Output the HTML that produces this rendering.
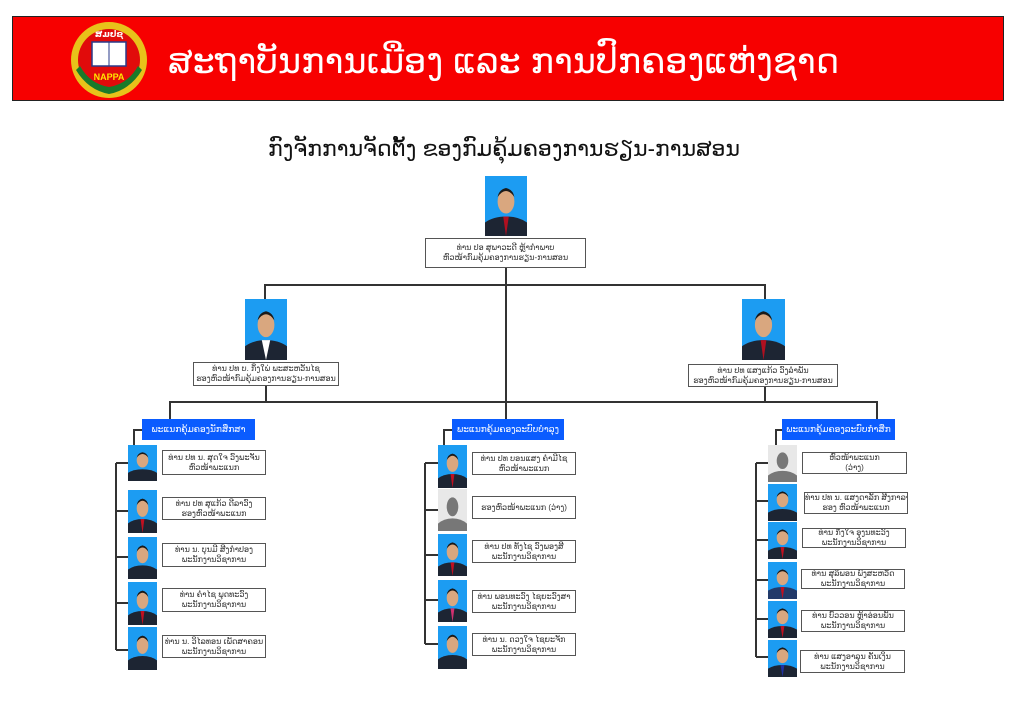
<!DOCTYPE html>
<html><head><meta charset="utf-8"><style>
body{margin:0;width:1024px;height:723px;background:#fff;position:relative;overflow:hidden;font-family:"Liberation Sans","DejaVu Sans",sans-serif}
.a{position:absolute}
.bx{position:absolute;border:1.5px solid #555;background:#fff;box-sizing:border-box;font-size:8px;line-height:10px;text-align:center;color:#333;display:flex;flex-direction:column;justify-content:center;overflow:hidden;white-space:nowrap}
.hd{position:absolute;background:#0a5cff;color:#fff;font-size:9px;text-align:center;line-height:21px;height:21px;overflow:hidden;white-space:nowrap}
.ph{position:absolute;background:#1c9cf2;overflow:hidden}
.ph svg{width:100%;height:100%;display:block}
.gr{background:#e8e8e8}
</style></head><body>
<div class="a" style="left:12px;top:16px;width:992px;height:85px;background:#f70000;border:1.5px solid #222;box-sizing:border-box"></div>
<svg class="a" style="left:68px;top:20px" width="82" height="80" viewBox="0 0 82 80">
<circle cx="41" cy="40" r="38" fill="#e8c21a"/>
<circle cx="41" cy="40" r="31" fill="#e10b0b"/>
<path d="M8 50 Q20 70 41 74 Q62 70 74 50 L70 46 Q60 64 41 67 Q22 64 12 46Z" fill="#1a7a2a"/>
<rect x="24" y="22" width="34" height="24" fill="#fff" stroke="#2a3a8a" stroke-width="1.5"/>
<line x1="41" y1="22" x2="41" y2="46" stroke="#2a3a8a"/>
<text x="41" y="17" font-size="9" fill="#fff" text-anchor="middle" font-weight="bold">ສມປຊ</text>
<text x="41" y="60" font-size="9" fill="#ffe600" text-anchor="middle" font-weight="bold">NAPPA</text>
</svg>
<div class="a" style="left:168px;top:39px;font-size:35px;line-height:46px;color:#fff;white-space:nowrap;font-weight:normal">ສະຖາບັນການເມືອງ ແລະ ການປົກຄອງແຫ່ງຊາດ</div>
<div class="a" style="left:0;top:136px;width:1008px;text-align:center;font-size:22px;color:#111;white-space:nowrap;font-weight:normal">ກົງຈັກການຈັດຕັ້ງ ຂອງກົມຄຸ້ມຄອງການຮຽນ-ການສອນ</div>

<svg class="a" style="left:0;top:0" width="1024" height="723">
<g stroke="#333" stroke-width="2" fill="none">
<line x1="506" y1="268" x2="506" y2="419"/>
<polyline points="265,299 265,285 765,285 765,299"/>
<line x1="266" y1="386" x2="266" y2="402"/>
<line x1="765" y1="387" x2="765" y2="402"/>
<polyline points="170,419 170,402 877,402 877,419"/>
<polyline points="142,430 134,430 134,445"/>
<line x1="116" y1="463" x2="116" y2="650"/>
<line x1="116" y1="463" x2="128" y2="463"/><line x1="116" y1="511" x2="128" y2="511"/><line x1="116" y1="557" x2="128" y2="557"/><line x1="116" y1="603" x2="128" y2="603"/><line x1="116" y1="650" x2="128" y2="650"/>
<polyline points="452,430 444,430 444,445"/>
<line x1="425" y1="463" x2="425" y2="644"/>
<line x1="425" y1="463" x2="438" y2="463"/><line x1="425" y1="510" x2="438" y2="510"/><line x1="425" y1="555" x2="438" y2="555"/><line x1="425" y1="600" x2="438" y2="600"/><line x1="425" y1="644" x2="438" y2="644"/>
<polyline points="782,430 776,430 776,445"/>
<line x1="756" y1="463" x2="756" y2="657"/>
<line x1="756" y1="463" x2="768" y2="463"/><line x1="756" y1="501" x2="768" y2="501"/><line x1="756" y1="540" x2="768" y2="540"/><line x1="756" y1="580" x2="768" y2="580"/><line x1="756" y1="619" x2="768" y2="619"/><line x1="756" y1="657" x2="768" y2="657"/>
</g></svg>

<div class="ph" style="left:485px;top:176px;width:42px;height:60px"><svg viewBox="0 0 30 40" preserveAspectRatio="none"><path d="M0 40 L0 31 Q6 27 15 27 Q24 27 30 31 L30 40Z" fill="#1d2533"/><path d="M13 27 L15 40 L17 27Z" fill="#b01020"/><ellipse cx="15" cy="17" rx="6" ry="8" fill="#d9a77f"/><path d="M9 14 Q15 6 21 14 Q20 9 15 8 Q10 9 9 14Z" fill="#1a1a1a"/></svg></div>
<div class="ph" style="left:245px;top:299px;width:42px;height:61px"><svg viewBox="0 0 30 40" preserveAspectRatio="none"><path d="M0 40 L0 31 Q6 27 15 27 Q24 27 30 31 L30 40Z" fill="#1d2533"/><path d="M12 27 L15 40 L18 27Z" fill="#fff"/><ellipse cx="15" cy="17" rx="6" ry="8" fill="#d9a77f"/><path d="M9 14 Q15 6 21 14 Q20 9 15 8 Q10 9 9 14Z" fill="#1a1a1a"/></svg></div>
<div class="ph" style="left:742px;top:299px;width:43px;height:61px"><svg viewBox="0 0 30 40" preserveAspectRatio="none"><path d="M0 40 L0 31 Q6 27 15 27 Q24 27 30 31 L30 40Z" fill="#1d2533"/><path d="M13 27 L15 40 L17 27Z" fill="#b01020"/><ellipse cx="15" cy="17" rx="6" ry="8" fill="#d9a77f"/><path d="M9 14 Q15 6 21 14 Q20 9 15 8 Q10 9 9 14Z" fill="#1a1a1a"/></svg></div>

<div class="bx" style="left:425px;top:238px;width:161px;height:30px"><div>ທ່ານ ປອ ສຸພາວະດີ ຫຼ້າກໍາພາບ</div><div>ຫົວໜ້າກົມຄຸ້ມຄອງການຮຽນ-ການສອນ</div></div>
<div class="bx" style="left:193px;top:362px;width:146px;height:24px"><div>ທ່ານ ປທ ບ. ກິ່ງໃພ່ ພະສະຫວັນໄຊ</div><div>ຮອງຫົວໜ້າກົມຄຸ້ມຄອງການຮຽນ-ການສອນ</div></div>
<div class="bx" style="left:688px;top:364px;width:150px;height:23px"><div>ທ່ານ ປທ ແສງແກ້ວ ວົງລໍາພັນ</div><div>ຮອງຫົວໜ້າກົມຄຸ້ມຄອງການຮຽນ-ການສອນ</div></div>

<div class="hd" style="left:142px;top:419px;width:113px">ພະແນກຄຸ້ມຄອງນັກສຶກສາ</div>
<div class="hd" style="left:452px;top:419px;width:112px">ພະແນກຄຸ້ມຄອງລະບົບບໍາລຸງ</div>
<div class="hd" style="left:782px;top:419px;width:113px">ພະແນກຄຸ້ມຄອງລະບົບກໍາສຶກ</div>

<div class="ph" style="left:128px;top:445px;width:29px;height:36px"><svg viewBox="0 0 30 40" preserveAspectRatio="none"><path d="M0 40 L0 31 Q6 27 15 27 Q24 27 30 31 L30 40Z" fill="#1d2533"/><ellipse cx="15" cy="17" rx="6" ry="8" fill="#d9a77f"/><path d="M9 14 Q15 6 21 14 Q20 9 15 8 Q10 9 9 14Z" fill="#1a1a1a"/></svg></div>
<div class="ph" style="left:128px;top:490px;width:29px;height:43px"><svg viewBox="0 0 30 40" preserveAspectRatio="none"><path d="M0 40 L0 31 Q6 27 15 27 Q24 27 30 31 L30 40Z" fill="#1d2533"/><path d="M13 27 L15 40 L17 27Z" fill="#c01020"/><ellipse cx="15" cy="17" rx="6" ry="8" fill="#d9a77f"/><path d="M9 14 Q15 6 21 14 Q20 9 15 8 Q10 9 9 14Z" fill="#1a1a1a"/></svg></div>
<div class="ph" style="left:128px;top:537px;width:29px;height:42px"><svg viewBox="0 0 30 40" preserveAspectRatio="none"><path d="M0 40 L0 31 Q6 27 15 27 Q24 27 30 31 L30 40Z" fill="#1d2533"/><ellipse cx="15" cy="17" rx="6" ry="8" fill="#d9a77f"/><path d="M9 14 Q15 6 21 14 Q20 9 15 8 Q10 9 9 14Z" fill="#1a1a1a"/></svg></div>
<div class="ph" style="left:128px;top:582px;width:29px;height:43px"><svg viewBox="0 0 30 40" preserveAspectRatio="none"><path d="M0 40 L0 31 Q6 27 15 27 Q24 27 30 31 L30 40Z" fill="#1d2533"/><path d="M13 27 L15 40 L17 27Z" fill="#c01020"/><ellipse cx="15" cy="17" rx="6" ry="8" fill="#d9a77f"/><path d="M9 14 Q15 6 21 14 Q20 9 15 8 Q10 9 9 14Z" fill="#1a1a1a"/></svg></div>
<div class="ph" style="left:128px;top:627px;width:29px;height:43px"><svg viewBox="0 0 30 40" preserveAspectRatio="none"><path d="M0 40 L0 31 Q6 27 15 27 Q24 27 30 31 L30 40Z" fill="#1d2533"/><ellipse cx="15" cy="17" rx="6" ry="8" fill="#d9a77f"/><path d="M9 14 Q15 6 21 14 Q20 9 15 8 Q10 9 9 14Z" fill="#1a1a1a"/></svg></div>
<div class="bx" style="left:162px;top:450px;width:104px;height:25px"><div>ທ່ານ ປທ ນ. ສຸດໃຈ ວົງພະຈັນ</div><div>ຫົວໜ້າພະແນກ</div></div>
<div class="bx" style="left:162px;top:497px;width:104px;height:23px"><div>ທ່ານ ປທ ສຸແກ້ວ ດີລາວົງ</div><div>ຮອງຫົວໜ້າພະແນກ</div></div>
<div class="bx" style="left:162px;top:543px;width:104px;height:24px"><div>ທ່ານ ນ. ບຸນມີ ສີງກໍາປອງ</div><div>ພະນັກງານວິຊາການ</div></div>
<div class="bx" style="left:162px;top:588px;width:104px;height:24px"><div>ທ່ານ ຄໍາໄຊ ພຸດທະວົງ</div><div>ພະນັກງານວິຊາການ</div></div>
<div class="bx" style="left:162px;top:635px;width:104px;height:23px"><div>ທ່ານ ນ. ວິໄລທອນ ເພັດສາຄອນ</div><div>ພະນັກງານວິຊາການ</div></div>

<div class="ph" style="left:438px;top:445px;width:29px;height:43px"><svg viewBox="0 0 30 40" preserveAspectRatio="none"><path d="M0 40 L0 31 Q6 27 15 27 Q24 27 30 31 L30 40Z" fill="#1d2533"/><path d="M13 27 L15 40 L17 27Z" fill="#c01020"/><ellipse cx="15" cy="17" rx="6" ry="8" fill="#d9a77f"/><path d="M9 14 Q15 6 21 14 Q20 9 15 8 Q10 9 9 14Z" fill="#1a1a1a"/></svg></div>
<div class="ph gr" style="left:438px;top:489px;width:29px;height:42px"><svg viewBox="0 0 30 40" preserveAspectRatio="none"><path d="M0 40 L0 33 Q6 28 15 28 Q24 28 30 33 L30 40Z" fill="#777"/><ellipse cx="15" cy="17" rx="6" ry="9" fill="#777"/></svg></div>
<div class="ph" style="left:438px;top:534px;width:29px;height:42px"><svg viewBox="0 0 30 40" preserveAspectRatio="none"><path d="M0 40 L0 31 Q6 27 15 27 Q24 27 30 31 L30 40Z" fill="#1d2533"/><path d="M13 27 L15 40 L17 27Z" fill="#c01020"/><ellipse cx="15" cy="17" rx="6" ry="8" fill="#d9a77f"/><path d="M9 14 Q15 6 21 14 Q20 9 15 8 Q10 9 9 14Z" fill="#1a1a1a"/></svg></div>
<div class="ph" style="left:438px;top:580px;width:29px;height:42px"><svg viewBox="0 0 30 40" preserveAspectRatio="none"><path d="M0 40 L0 31 Q6 27 15 27 Q24 27 30 31 L30 40Z" fill="#1d2533"/><path d="M13 27 L15 40 L17 27Z" fill="#d03070"/><ellipse cx="15" cy="17" rx="6" ry="8" fill="#d9a77f"/><path d="M9 14 Q15 6 21 14 Q20 9 15 8 Q10 9 9 14Z" fill="#1a1a1a"/></svg></div>
<div class="ph" style="left:438px;top:626px;width:29px;height:43px"><svg viewBox="0 0 30 40" preserveAspectRatio="none"><path d="M0 40 L0 31 Q6 27 15 27 Q24 27 30 31 L30 40Z" fill="#1d2533"/><ellipse cx="15" cy="17" rx="6" ry="8" fill="#d9a77f"/><path d="M9 14 Q15 6 21 14 Q20 9 15 8 Q10 9 9 14Z" fill="#1a1a1a"/></svg></div>
<div class="bx" style="left:472px;top:452px;width:104px;height:23px"><div>ທ່ານ ປທ ບອນແສງ ຄໍາມີໄຊ</div><div>ຫົວໜ້າພະແນກ</div></div>
<div class="bx" style="left:472px;top:496px;width:104px;height:23px"><div>ຮອງຫົວໜ້າພະແນກ (ວ່າງ)</div></div>
<div class="bx" style="left:472px;top:540px;width:104px;height:23px"><div>ທ່ານ ປທ ທັງໄຊ ວົງພອງສີ</div><div>ພະນັກງານວິຊາການ</div></div>
<div class="bx" style="left:472px;top:590px;width:104px;height:23px"><div>ທ່ານ ພອນທະວົງ ໄຊຍະວົງສາ</div><div>ພະນັກງານວິຊາການ</div></div>
<div class="bx" style="left:472px;top:633px;width:104px;height:23px"><div>ທ່ານ ນ. ດວງໃຈ ໄຊຍະຈັກ</div><div>ພະນັກງານວິຊາການ</div></div>

<div class="ph gr" style="left:768px;top:445px;width:29px;height:37px"><svg viewBox="0 0 30 40" preserveAspectRatio="none"><path d="M0 40 L0 33 Q6 28 15 28 Q24 28 30 33 L30 40Z" fill="#777"/><ellipse cx="15" cy="17" rx="6" ry="9" fill="#777"/></svg></div>
<div class="ph" style="left:768px;top:484px;width:29px;height:37px"><svg viewBox="0 0 30 40" preserveAspectRatio="none"><path d="M0 40 L0 31 Q6 27 15 27 Q24 27 30 31 L30 40Z" fill="#1d2533"/><ellipse cx="15" cy="17" rx="6" ry="8" fill="#d9a77f"/><path d="M9 14 Q15 6 21 14 Q20 9 15 8 Q10 9 9 14Z" fill="#1a1a1a"/></svg></div>
<div class="ph" style="left:768px;top:522px;width:29px;height:37px"><svg viewBox="0 0 30 40" preserveAspectRatio="none"><path d="M0 40 L0 31 Q6 27 15 27 Q24 27 30 31 L30 40Z" fill="#1d2533"/><path d="M13 27 L15 40 L17 27Z" fill="#c01020"/><ellipse cx="15" cy="17" rx="6" ry="8" fill="#d9a77f"/><path d="M9 14 Q15 6 21 14 Q20 9 15 8 Q10 9 9 14Z" fill="#1a1a1a"/></svg></div>
<div class="ph" style="left:768px;top:562px;width:29px;height:37px"><svg viewBox="0 0 30 40" preserveAspectRatio="none"><path d="M0 40 L0 31 Q6 27 15 27 Q24 27 30 31 L30 40Z" fill="#223a6a"/><path d="M13 27 L15 40 L17 27Z" fill="#c01020"/><ellipse cx="15" cy="17" rx="6" ry="8" fill="#d9a77f"/><path d="M9 14 Q15 6 21 14 Q20 9 15 8 Q10 9 9 14Z" fill="#1a1a1a"/></svg></div>
<div class="ph" style="left:768px;top:601px;width:29px;height:37px"><svg viewBox="0 0 30 40" preserveAspectRatio="none"><path d="M0 40 L0 31 Q6 27 15 27 Q24 27 30 31 L30 40Z" fill="#1d2533"/><path d="M13 27 L15 40 L17 27Z" fill="#c01020"/><ellipse cx="15" cy="17" rx="6" ry="8" fill="#d9a77f"/><path d="M9 14 Q15 6 21 14 Q20 9 15 8 Q10 9 9 14Z" fill="#1a1a1a"/></svg></div>
<div class="ph" style="left:768px;top:640px;width:29px;height:37px"><svg viewBox="0 0 30 40" preserveAspectRatio="none"><path d="M0 40 L0 31 Q6 27 15 27 Q24 27 30 31 L30 40Z" fill="#1d2533"/><path d="M13 27 L15 40 L17 27Z" fill="#2030a0"/><ellipse cx="15" cy="17" rx="6" ry="8" fill="#d9a77f"/><path d="M9 14 Q15 6 21 14 Q20 9 15 8 Q10 9 9 14Z" fill="#1a1a1a"/></svg></div>
<div class="bx" style="left:802px;top:452px;width:105px;height:22px"><div>ຫົວໜ້າພະແນກ</div><div>(ວ່າງ)</div></div>
<div class="bx" style="left:804px;top:492px;width:104px;height:22px"><div>ທ່ານ ປທ ນ. ແສງດາລັກ ສີງກາລາ</div><div>ຮອງ ຫົວໜ້າພະແນກ</div></div>
<div class="bx" style="left:802px;top:528px;width:104px;height:20px"><div>ທ່ານ ກິ່ງໃຈ ອຸງນທະວົງ</div><div>ພະນັກງານວິຊາການ</div></div>
<div class="bx" style="left:801px;top:569px;width:104px;height:20px"><div>ທ່ານ ສຸລິພອນ ພົງສະຫວັດ</div><div>ພະນັກງານວິຊາການ</div></div>
<div class="bx" style="left:801px;top:610px;width:104px;height:22px"><div>ທ່ານ ບົວວອນ ຫຼ້າອ່ອນພັນ</div><div>ພະນັກງານວິຊາການ</div></div>
<div class="bx" style="left:800px;top:650px;width:105px;height:23px"><div>ທ່ານ ແສງອາລຸນ ຄັນເງິນ</div><div>ພະນັກງານວິຊາການ</div></div>
</body></html>
